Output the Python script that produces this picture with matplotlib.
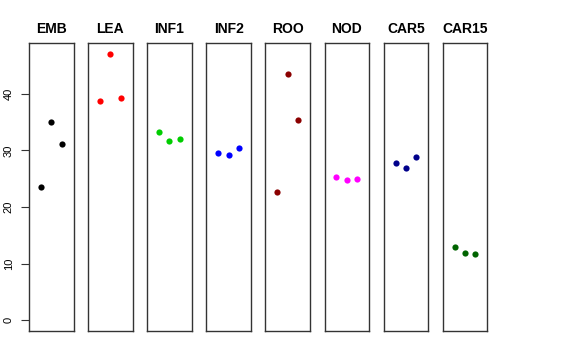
import matplotlib.pyplot as plt

# tissue groups and three replicate values each
tissues = ["EMB", "LEA", "INF1", "INF2", "ROO", "NOD", "CAR5", "CAR15"]
colors = ["black", "red", "#00CD00", "blue", "#8B0000", "magenta", "#00008B", "#006400"]
reps = [1, 2, 3]
emb = [23.6, 35.0, 31.2]
lea = [38.7, 47.1, 39.2]
inf1 = [33.2, 31.7, 32.0]
inf2 = [29.6, 29.2, 30.4]
roo = [22.7, 43.5, 35.3]
nod = [25.3, 24.7, 24.9]
car5 = [27.8, 26.9, 28.8]
car15 = [13.0, 11.9, 11.7]
values = [emb, lea, inf1, inf2, roo, nod, car5, car15]
yticks = [0, 10, 20, 30, 40]

plt.rcParams['font.family'] = ['Liberation Sans', 'DejaVu Sans']

W, H = 576, 360
fig = plt.figure(figsize=(W / 100, H / 100), dpi=100)

left0, step, width = 29, 59.1, 44.5
top, bottom = 43, 331

for i, (name, col, vals) in enumerate(zip(tissues, colors, values)):
    x0 = left0 + i * step
    ax = fig.add_axes([x0 / W, (H - bottom) / H, width / W, (bottom - top) / H])
    ax.scatter(reps, vals, s=20, color=col, zorder=3, linewidths=0)
    ax.set_xlim(-0.16, 4.16)
    ax.set_ylim(-1.88, 48.98)
    ax.set_xticks([])
    for sp in ax.spines.values():
        sp.set_linewidth(1.0)
        sp.set_color('#333333')
    ax.set_title(name, fontsize=10, fontweight='bold', pad=7)
    if i == 0:
        ax.set_yticks(yticks)
        ax.set_yticklabels([str(t) for t in yticks], rotation=90, va='center', fontsize=8)
        ax.tick_params(axis='y', length=6, width=0.8, pad=5, colors='#333333', labelcolor='black')
    else:
        ax.set_yticks([])

fig.savefig("out.png", dpi=100)
